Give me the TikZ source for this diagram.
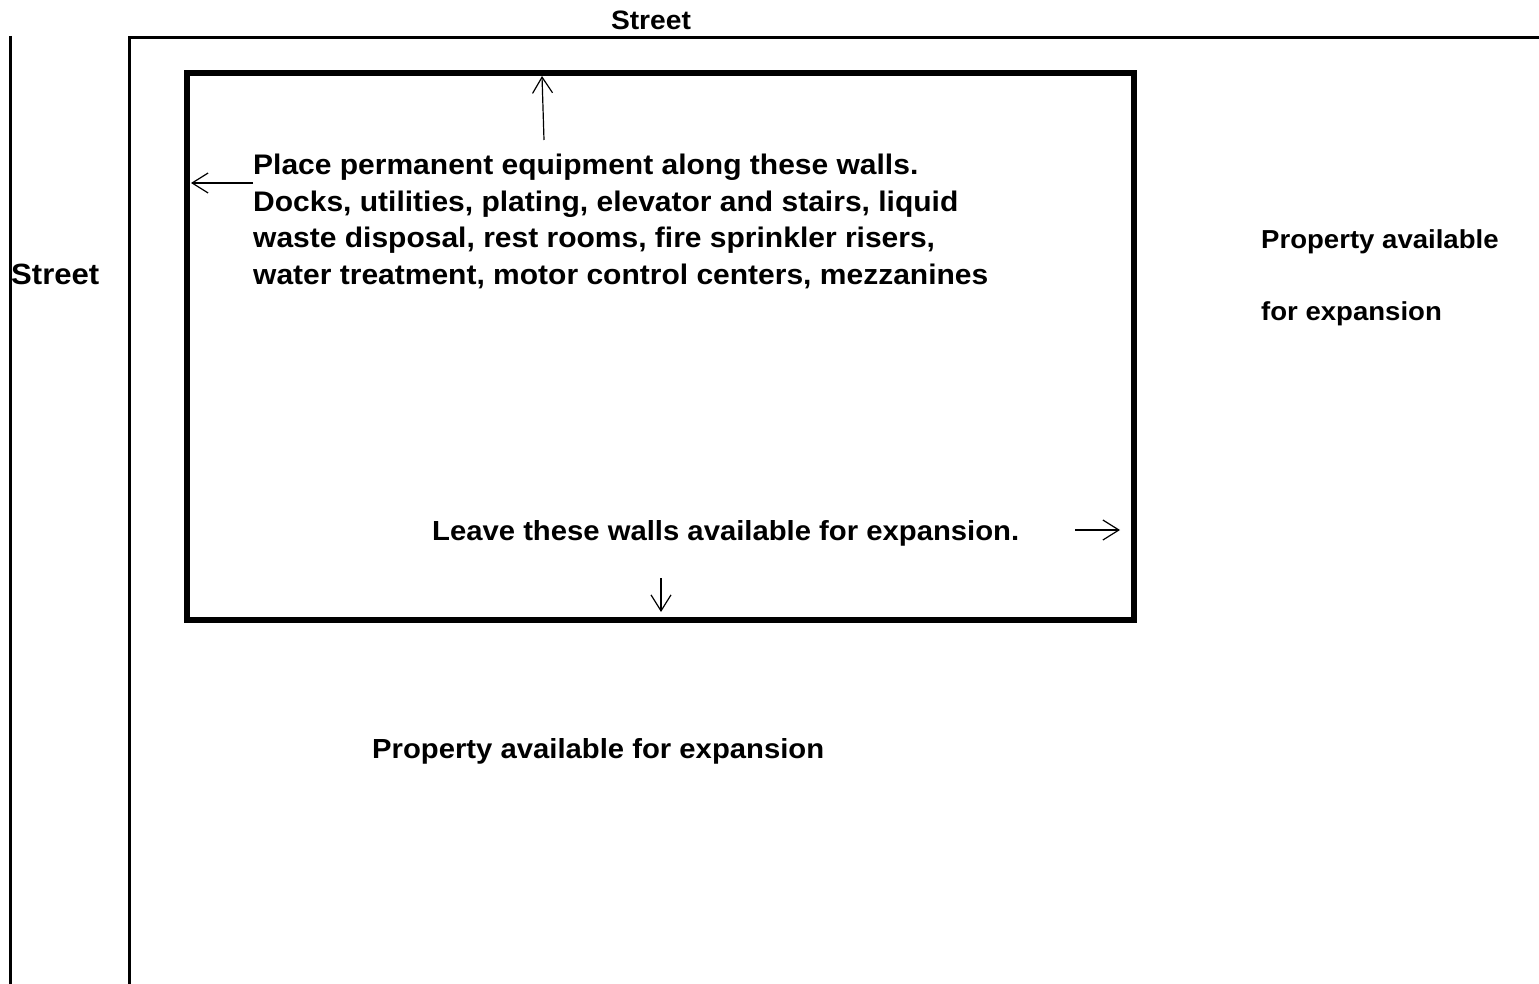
\documentclass[tikz,border=0pt]{standalone}
\usepackage{fontspec}
\setmainfont{Liberation Sans}[FakeStretch=1.06]
\usetikzlibrary{arrows.meta}
\begin{document}
\begin{tikzpicture}[x=1pt,y=-1pt,
  lbl/.style={inner sep=0pt,anchor=base west,font=\bfseries\fontsize{#1}{36}\selectfont},
  lbl/.default=28,
  boundary/.style={line width=3pt},
  wall/.style={line width=6pt},
  pointer/.style={line width=1.2pt,-{Straight Barb[length=16pt,width=20pt,line width=1.2pt]}}]
\useasboundingbox (0,0) rectangle (1539,984);
% street edge and property line
\draw[boundary] (10.5,36) -- (10.5,984);
\draw[boundary] (129.5,984) -- (129.5,37.5) -- (1539,37.5);
% building outline
\draw[wall] (187,73) rectangle (1134,620);
% labels
\node[lbl=26.6,anchor=base] (streettop) at (651,30) {Street};
\node[lbl=29.3] (streetleft) at (11,285) {Street};
\node[lbl=28.3] (l1) at (253,175) {Place permanent equipment along these walls.};
\node[lbl=28.3] (l2) at (253,212) {Docks, utilities, plating, elevator and stairs, liquid};
\node[lbl=28.3] (l3) at (253,248) {waste disposal, rest rooms, fire sprinkler risers,};
\node[lbl=28.3] (l4) at (253,285) {water treatment, motor control centers, mezzanines};
\node[lbl=26] (pr1) at (1261,249) {Property available};
\node[lbl=26] (pr2) at (1261,320) {for expansion};
\node[lbl=27.6] (leave) at (432,540) {Leave these walls available for expansion.};
\node[lbl=27.6] (prb) at (372,758) {Property available for expansion};
% pointer ends
\coordinate (lA) at (253,183);
\coordinate (lB) at (191,183);
\coordinate (tA) at (544,140);
\coordinate (tB) at (542,76);
\coordinate (rA) at (1075,530);
\coordinate (rB) at (1120,530);
\coordinate (dA) at (661,578);
\coordinate (dB) at (661,612);
\draw[pointer] (lA) -- (lB);
\draw[pointer] (tA) -- (tB);
\draw[pointer] (rA) -- (rB);
\draw[pointer] (dA) -- (dB);
\end{tikzpicture}
\end{document}
